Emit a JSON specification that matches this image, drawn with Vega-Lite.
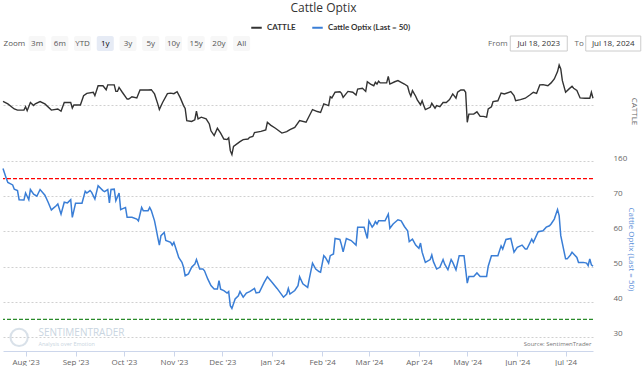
{
  "$schema": "https://vega.github.io/schema/vega-lite/v6.json",
  "padding": {"left": 0, "top": 2, "right": 0, "bottom": 0},
  "background": "white",
  "title": {"text": "Cattle Optix", "fontSize": 12, "fontWeight": "normal", "color": "#333333", "anchor": "middle", "font": "Open Sans", "offset": 6},
  "datasets": {
    "cattle": [
      {"date": "2023-07-18", "value": 181.3}, {"date": "2023-07-21", "value": 180.4}, {"date": "2023-07-25", "value": 178.6}, {"date": "2023-07-27", "value": 178.2}, {"date": "2023-07-31", "value": 178.2},
      {"date": "2023-08-01", "value": 179.4}, {"date": "2023-08-02", "value": 178.0}, {"date": "2023-08-04", "value": 180.9}, {"date": "2023-08-06", "value": 179.8}, {"date": "2023-08-07", "value": 180.4},
      {"date": "2023-08-10", "value": 181.2}, {"date": "2023-08-13", "value": 180.4}, {"date": "2023-08-17", "value": 178.2}, {"date": "2023-08-21", "value": 178.6}, {"date": "2023-08-23", "value": 177.8},
      {"date": "2023-08-25", "value": 180.9}, {"date": "2023-08-29", "value": 180.9}, {"date": "2023-08-30", "value": 178.9}, {"date": "2023-08-31", "value": 180.0}, {"date": "2023-09-04", "value": 180.0},
      {"date": "2023-09-06", "value": 183.3}, {"date": "2023-09-08", "value": 184.1}, {"date": "2023-09-12", "value": 184.5}, {"date": "2023-09-13", "value": 183.3}, {"date": "2023-09-15", "value": 186.8},
      {"date": "2023-09-18", "value": 186.8}, {"date": "2023-09-20", "value": 185.4}, {"date": "2023-09-21", "value": 187.1}, {"date": "2023-09-25", "value": 187.1}, {"date": "2023-09-26", "value": 184.8},
      {"date": "2023-09-27", "value": 184.8}, {"date": "2023-09-28", "value": 186.2}, {"date": "2023-09-30", "value": 184.5}, {"date": "2023-10-03", "value": 182.1}, {"date": "2023-10-04", "value": 182.1},
      {"date": "2023-10-06", "value": 182.9}, {"date": "2023-10-09", "value": 182.5}, {"date": "2023-10-11", "value": 185.3}, {"date": "2023-10-16", "value": 185.3}, {"date": "2023-10-18", "value": 185.4},
      {"date": "2023-10-20", "value": 183.9}, {"date": "2023-10-22", "value": 180.4}, {"date": "2023-10-23", "value": 178.4}, {"date": "2023-10-25", "value": 180.9}, {"date": "2023-10-28", "value": 184.0},
      {"date": "2023-10-30", "value": 184.2}, {"date": "2023-11-01", "value": 184.0}, {"date": "2023-11-03", "value": 184.7}, {"date": "2023-11-05", "value": 182.5}, {"date": "2023-11-07", "value": 179.8},
      {"date": "2023-11-08", "value": 178.8}, {"date": "2023-11-09", "value": 174.5}, {"date": "2023-11-12", "value": 174.2}, {"date": "2023-11-14", "value": 174.8}, {"date": "2023-11-15", "value": 177.8},
      {"date": "2023-11-16", "value": 175.1}, {"date": "2023-11-18", "value": 175.7}, {"date": "2023-11-21", "value": 175.1}, {"date": "2023-11-23", "value": 173.3}, {"date": "2023-11-24", "value": 170.9},
      {"date": "2023-11-26", "value": 169.2}, {"date": "2023-11-28", "value": 171.8}, {"date": "2023-11-30", "value": 170.1}, {"date": "2023-12-02", "value": 168.0}, {"date": "2023-12-04", "value": 167.8},
      {"date": "2023-12-05", "value": 168.4}, {"date": "2023-12-06", "value": 163.9}, {"date": "2023-12-07", "value": 162.5}, {"date": "2023-12-08", "value": 165.4}, {"date": "2023-12-12", "value": 167.1},
      {"date": "2023-12-14", "value": 167.8}, {"date": "2023-12-17", "value": 168.0}, {"date": "2023-12-18", "value": 168.6}, {"date": "2023-12-20", "value": 168.9}, {"date": "2023-12-21", "value": 170.3},
      {"date": "2023-12-25", "value": 170.7}, {"date": "2023-12-28", "value": 171.2}, {"date": "2023-12-29", "value": 173.9}, {"date": "2023-12-31", "value": 172.9}, {"date": "2024-01-03", "value": 171.8},
      {"date": "2024-01-07", "value": 170.1}, {"date": "2024-01-10", "value": 170.6}, {"date": "2024-01-12", "value": 171.3}, {"date": "2024-01-15", "value": 172.1}, {"date": "2024-01-18", "value": 174.5},
      {"date": "2024-01-22", "value": 173.9}, {"date": "2024-01-26", "value": 178.4}, {"date": "2024-01-29", "value": 177.7}, {"date": "2024-01-31", "value": 177.4}, {"date": "2024-02-02", "value": 180.4},
      {"date": "2024-02-05", "value": 179.8}, {"date": "2024-02-06", "value": 182.9}, {"date": "2024-02-07", "value": 182.5}, {"date": "2024-02-09", "value": 184.5}, {"date": "2024-02-12", "value": 184.7},
      {"date": "2024-02-13", "value": 184.1}, {"date": "2024-02-14", "value": 182.7}, {"date": "2024-02-17", "value": 184.8}, {"date": "2024-02-20", "value": 184.5}, {"date": "2024-02-22", "value": 183.5},
      {"date": "2024-02-23", "value": 185.6}, {"date": "2024-02-26", "value": 185.9}, {"date": "2024-02-28", "value": 184.8}, {"date": "2024-02-29", "value": 188.2}, {"date": "2024-03-02", "value": 187.4},
      {"date": "2024-03-04", "value": 186.8}, {"date": "2024-03-05", "value": 188.0}, {"date": "2024-03-06", "value": 187.4}, {"date": "2024-03-07", "value": 188.4}, {"date": "2024-03-08", "value": 187.8},
      {"date": "2024-03-12", "value": 187.8}, {"date": "2024-03-13", "value": 190.1}, {"date": "2024-03-14", "value": 187.4}, {"date": "2024-03-17", "value": 188.2}, {"date": "2024-03-19", "value": 188.6},
      {"date": "2024-03-21", "value": 188.0}, {"date": "2024-03-23", "value": 187.4}, {"date": "2024-03-25", "value": 186.6}, {"date": "2024-03-26", "value": 184.5}, {"date": "2024-03-27", "value": 183.1},
      {"date": "2024-03-28", "value": 185.1}, {"date": "2024-03-30", "value": 183.1}, {"date": "2024-03-31", "value": 181.8}, {"date": "2024-04-02", "value": 180.1}, {"date": "2024-04-03", "value": 181.5},
      {"date": "2024-04-04", "value": 179.8}, {"date": "2024-04-05", "value": 178.4}, {"date": "2024-04-08", "value": 179.2}, {"date": "2024-04-09", "value": 180.6}, {"date": "2024-04-11", "value": 178.9},
      {"date": "2024-04-12", "value": 179.8}, {"date": "2024-04-14", "value": 179.4}, {"date": "2024-04-16", "value": 180.9}, {"date": "2024-04-18", "value": 180.9}, {"date": "2024-04-20", "value": 181.9},
      {"date": "2024-04-22", "value": 183.9}, {"date": "2024-04-24", "value": 182.4}, {"date": "2024-04-25", "value": 184.5}, {"date": "2024-04-27", "value": 185.3}, {"date": "2024-04-29", "value": 185.3},
      {"date": "2024-04-30", "value": 184.5}, {"date": "2024-05-01", "value": 173.9}, {"date": "2024-05-02", "value": 176.8}, {"date": "2024-05-05", "value": 176.8}, {"date": "2024-05-07", "value": 177.6},
      {"date": "2024-05-09", "value": 176.0}, {"date": "2024-05-11", "value": 176.0}, {"date": "2024-05-13", "value": 175.7}, {"date": "2024-05-14", "value": 178.6}, {"date": "2024-05-16", "value": 179.4},
      {"date": "2024-05-17", "value": 181.2}, {"date": "2024-05-20", "value": 181.5}, {"date": "2024-05-22", "value": 184.2}, {"date": "2024-05-24", "value": 183.9}, {"date": "2024-05-28", "value": 184.7},
      {"date": "2024-05-30", "value": 183.3}, {"date": "2024-05-31", "value": 181.5}, {"date": "2024-06-03", "value": 181.9}, {"date": "2024-06-06", "value": 182.4}, {"date": "2024-06-09", "value": 183.6},
      {"date": "2024-06-11", "value": 184.5}, {"date": "2024-06-13", "value": 184.1}, {"date": "2024-06-15", "value": 187.1}, {"date": "2024-06-17", "value": 187.2}, {"date": "2024-06-20", "value": 186.8},
      {"date": "2024-06-22", "value": 187.8}, {"date": "2024-06-24", "value": 189.2}, {"date": "2024-06-26", "value": 191.8}, {"date": "2024-06-27", "value": 194.1}, {"date": "2024-06-28", "value": 192.7},
      {"date": "2024-06-29", "value": 188.6}, {"date": "2024-07-01", "value": 184.5}, {"date": "2024-07-03", "value": 185.6}, {"date": "2024-07-05", "value": 186.6}, {"date": "2024-07-06", "value": 185.9},
      {"date": "2024-07-08", "value": 185.1}, {"date": "2024-07-10", "value": 182.5}, {"date": "2024-07-13", "value": 182.4}, {"date": "2024-07-16", "value": 182.4}, {"date": "2024-07-17", "value": 184.5},
      {"date": "2024-07-18", "value": 182.4}
    ],
    "optix": [
      {"date": "2023-07-18", "value": 77.9}, {"date": "2023-07-20", "value": 75.1}, {"date": "2023-07-21", "value": 73.9}, {"date": "2023-07-24", "value": 73.2}, {"date": "2023-07-25", "value": 72.0},
      {"date": "2023-07-27", "value": 71.6}, {"date": "2023-07-28", "value": 69.0}, {"date": "2023-07-31", "value": 68.9}, {"date": "2023-08-01", "value": 70.9}, {"date": "2023-08-03", "value": 69.0},
      {"date": "2023-08-04", "value": 71.9}, {"date": "2023-08-06", "value": 70.6}, {"date": "2023-08-08", "value": 70.0}, {"date": "2023-08-10", "value": 71.9}, {"date": "2023-08-13", "value": 70.3},
      {"date": "2023-08-15", "value": 68.3}, {"date": "2023-08-17", "value": 66.1}, {"date": "2023-08-20", "value": 67.3}, {"date": "2023-08-21", "value": 67.8}, {"date": "2023-08-23", "value": 64.9},
      {"date": "2023-08-25", "value": 68.3}, {"date": "2023-08-27", "value": 68.1}, {"date": "2023-08-29", "value": 69.0}, {"date": "2023-08-30", "value": 64.0}, {"date": "2023-09-01", "value": 68.0},
      {"date": "2023-09-05", "value": 68.0}, {"date": "2023-09-07", "value": 71.4}, {"date": "2023-09-08", "value": 70.9}, {"date": "2023-09-10", "value": 71.6}, {"date": "2023-09-11", "value": 71.1},
      {"date": "2023-09-13", "value": 69.2}, {"date": "2023-09-15", "value": 73.0}, {"date": "2023-09-18", "value": 71.6}, {"date": "2023-09-19", "value": 71.3}, {"date": "2023-09-21", "value": 71.9},
      {"date": "2023-09-22", "value": 68.1}, {"date": "2023-09-23", "value": 71.9}, {"date": "2023-09-25", "value": 72.0}, {"date": "2023-09-26", "value": 68.7}, {"date": "2023-09-28", "value": 70.9},
      {"date": "2023-09-29", "value": 66.2}, {"date": "2023-10-01", "value": 66.6}, {"date": "2023-10-02", "value": 66.8}, {"date": "2023-10-03", "value": 64.0}, {"date": "2023-10-06", "value": 64.0},
      {"date": "2023-10-09", "value": 63.5}, {"date": "2023-10-10", "value": 63.0}, {"date": "2023-10-12", "value": 66.8}, {"date": "2023-10-13", "value": 65.9}, {"date": "2023-10-16", "value": 65.9},
      {"date": "2023-10-17", "value": 66.8}, {"date": "2023-10-18", "value": 65.9}, {"date": "2023-10-20", "value": 63.0}, {"date": "2023-10-21", "value": 60.7}, {"date": "2023-10-22", "value": 58.3},
      {"date": "2023-10-23", "value": 56.1}, {"date": "2023-10-24", "value": 58.8}, {"date": "2023-10-26", "value": 59.7}, {"date": "2023-10-27", "value": 57.4}, {"date": "2023-10-30", "value": 56.9},
      {"date": "2023-10-31", "value": 56.1}, {"date": "2023-11-01", "value": 56.9}, {"date": "2023-11-03", "value": 54.1}, {"date": "2023-11-04", "value": 52.6}, {"date": "2023-11-06", "value": 51.2},
      {"date": "2023-11-07", "value": 49.8}, {"date": "2023-11-08", "value": 47.4}, {"date": "2023-11-10", "value": 47.9}, {"date": "2023-11-12", "value": 49.8}, {"date": "2023-11-14", "value": 50.7},
      {"date": "2023-11-15", "value": 52.0}, {"date": "2023-11-17", "value": 49.3}, {"date": "2023-11-19", "value": 49.3}, {"date": "2023-11-20", "value": 48.8}, {"date": "2023-11-22", "value": 46.5},
      {"date": "2023-11-24", "value": 44.6}, {"date": "2023-11-26", "value": 43.6}, {"date": "2023-11-28", "value": 43.6}, {"date": "2023-11-29", "value": 46.0}, {"date": "2023-11-30", "value": 43.6},
      {"date": "2023-12-02", "value": 43.2}, {"date": "2023-12-04", "value": 42.5}, {"date": "2023-12-05", "value": 42.9}, {"date": "2023-12-06", "value": 38.9}, {"date": "2023-12-07", "value": 38.1},
      {"date": "2023-12-09", "value": 40.8}, {"date": "2023-12-11", "value": 41.7}, {"date": "2023-12-12", "value": 42.9}, {"date": "2023-12-14", "value": 41.3}, {"date": "2023-12-16", "value": 42.5},
      {"date": "2023-12-18", "value": 42.9}, {"date": "2023-12-19", "value": 43.2}, {"date": "2023-12-21", "value": 43.8}, {"date": "2023-12-22", "value": 42.5}, {"date": "2023-12-24", "value": 42.7},
      {"date": "2023-12-27", "value": 45.5}, {"date": "2023-12-29", "value": 47.1}, {"date": "2024-01-01", "value": 45.5}, {"date": "2024-01-04", "value": 43.8}, {"date": "2024-01-08", "value": 41.3},
      {"date": "2024-01-10", "value": 42.2}, {"date": "2024-01-11", "value": 43.8}, {"date": "2024-01-12", "value": 42.2}, {"date": "2024-01-15", "value": 43.2}, {"date": "2024-01-17", "value": 44.6},
      {"date": "2024-01-18", "value": 47.1}, {"date": "2024-01-20", "value": 45.1}, {"date": "2024-01-23", "value": 44.1}, {"date": "2024-01-24", "value": 46.5}, {"date": "2024-01-26", "value": 51.0},
      {"date": "2024-01-28", "value": 49.3}, {"date": "2024-01-30", "value": 48.6}, {"date": "2024-01-31", "value": 48.4}, {"date": "2024-02-02", "value": 53.1}, {"date": "2024-02-03", "value": 52.6},
      {"date": "2024-02-05", "value": 51.0}, {"date": "2024-02-06", "value": 53.1}, {"date": "2024-02-08", "value": 53.6}, {"date": "2024-02-09", "value": 58.0}, {"date": "2024-02-12", "value": 57.7},
      {"date": "2024-02-13", "value": 56.1}, {"date": "2024-02-14", "value": 54.2}, {"date": "2024-02-16", "value": 58.0}, {"date": "2024-02-19", "value": 57.4}, {"date": "2024-02-22", "value": 56.1},
      {"date": "2024-02-23", "value": 61.2}, {"date": "2024-02-27", "value": 61.2}, {"date": "2024-02-29", "value": 58.0}, {"date": "2024-03-01", "value": 63.0}, {"date": "2024-03-03", "value": 61.2},
      {"date": "2024-03-04", "value": 61.8}, {"date": "2024-03-05", "value": 62.8}, {"date": "2024-03-06", "value": 62.1}, {"date": "2024-03-07", "value": 63.0}, {"date": "2024-03-11", "value": 63.0},
      {"date": "2024-03-13", "value": 64.9}, {"date": "2024-03-14", "value": 60.9}, {"date": "2024-03-16", "value": 62.1}, {"date": "2024-03-19", "value": 63.3}, {"date": "2024-03-21", "value": 63.0},
      {"date": "2024-03-23", "value": 61.4}, {"date": "2024-03-25", "value": 60.2}, {"date": "2024-03-26", "value": 57.1}, {"date": "2024-03-28", "value": 57.8}, {"date": "2024-03-30", "value": 56.1},
      {"date": "2024-04-01", "value": 55.2}, {"date": "2024-04-02", "value": 56.7}, {"date": "2024-04-03", "value": 54.1}, {"date": "2024-04-05", "value": 51.2}, {"date": "2024-04-08", "value": 52.0},
      {"date": "2024-04-09", "value": 53.3}, {"date": "2024-04-10", "value": 51.4}, {"date": "2024-04-12", "value": 49.3}, {"date": "2024-04-14", "value": 49.8}, {"date": "2024-04-16", "value": 52.0},
      {"date": "2024-04-17", "value": 50.7}, {"date": "2024-04-19", "value": 49.1}, {"date": "2024-04-21", "value": 52.0}, {"date": "2024-04-22", "value": 51.2}, {"date": "2024-04-24", "value": 49.1},
      {"date": "2024-04-26", "value": 53.1}, {"date": "2024-04-29", "value": 53.1}, {"date": "2024-05-01", "value": 45.3}, {"date": "2024-05-02", "value": 47.2}, {"date": "2024-05-05", "value": 47.2},
      {"date": "2024-05-07", "value": 48.2}, {"date": "2024-05-09", "value": 47.2}, {"date": "2024-05-13", "value": 47.2}, {"date": "2024-05-14", "value": 50.1}, {"date": "2024-05-16", "value": 53.1},
      {"date": "2024-05-20", "value": 53.1}, {"date": "2024-05-22", "value": 55.9}, {"date": "2024-05-23", "value": 55.0}, {"date": "2024-05-25", "value": 57.7}, {"date": "2024-05-28", "value": 58.0},
      {"date": "2024-05-30", "value": 54.1}, {"date": "2024-06-01", "value": 55.5}, {"date": "2024-06-04", "value": 56.1}, {"date": "2024-06-06", "value": 55.0}, {"date": "2024-06-07", "value": 55.0},
      {"date": "2024-06-10", "value": 57.8}, {"date": "2024-06-11", "value": 56.9}, {"date": "2024-06-14", "value": 59.9}, {"date": "2024-06-17", "value": 60.2}, {"date": "2024-06-19", "value": 61.2},
      {"date": "2024-06-21", "value": 61.6}, {"date": "2024-06-22", "value": 62.1}, {"date": "2024-06-24", "value": 63.5}, {"date": "2024-06-25", "value": 64.9}, {"date": "2024-06-26", "value": 66.2},
      {"date": "2024-06-27", "value": 64.5}, {"date": "2024-06-28", "value": 58.8}, {"date": "2024-07-01", "value": 52.2}, {"date": "2024-07-02", "value": 52.2}, {"date": "2024-07-04", "value": 53.3},
      {"date": "2024-07-05", "value": 54.1}, {"date": "2024-07-06", "value": 53.6}, {"date": "2024-07-08", "value": 52.6}, {"date": "2024-07-09", "value": 51.2}, {"date": "2024-07-12", "value": 51.2},
      {"date": "2024-07-14", "value": 51.0}, {"date": "2024-07-15", "value": 50.3}, {"date": "2024-07-16", "value": 52.2}, {"date": "2024-07-17", "value": 50.5}, {"date": "2024-07-18", "value": 50.1}
    ]
  },
  "vconcat": [
    {
      "hconcat": [
        {
          "width": 250,
          "height": 15,
          "data": {"values": [{"range": "Zoom"}, {"range": "3m"}, {"range": "6m"}, {"range": "YTD"}, {"range": "1y"}, {"range": "3y"}, {"range": "5y"}, {"range": "10y"}, {"range": "15y"}, {"range": "20y"}, {"range": "All"}]},
          "encoding": {"x": {"field": "range", "type": "nominal", "sort": null, "scale": {"domain": ["Zoom", "3m", "6m", "YTD", "1y", "3y", "5y", "10y", "15y", "20y", "All"], "paddingInner": 0.25, "paddingOuter": 0.125}, "axis": null}},
          "layer": [
            {
              "transform": [{"filter": "datum.range !== 'Zoom'"}],
              "mark": {"type": "rect", "cornerRadius": 2},
              "encoding": {"fill": {"condition": {"test": "datum.range === '1y'", "value": "#e6ebf5"}, "value": "#f7f7f7"}}
            },
            {
              "mark": {"type": "text", "fontSize": 8, "font": "Open Sans", "baseline": "middle"},
              "encoding": {
                "text": {"field": "range"},
                "fill": {"condition": {"test": "datum.range === '1y'", "value": "#000000"}, "value": "#555555"},
                "fontWeight": {"condition": {"test": "datum.range === '1y'", "value": "bold"}, "value": "normal"}
              }
            }
          ]
        },
        {
          "width": 159,
          "height": 15,
          "data": {"values": [{"which": "From", "day": "Jul 18, 2023"}, {"which": "To", "day": "Jul 18, 2024"}]},
          "encoding": {"x": {"field": "which", "type": "nominal", "sort": null, "scale": {"domain": ["From", "To"], "paddingInner": 0, "paddingOuter": 0}, "axis": null}},
          "layer": [
            {
              "transform": [{"filter": "datum.which === 'From'"}],
              "mark": {"type": "text", "align": "left", "baseline": "middle", "fontSize": 8, "font": "Open Sans", "color": "#666666"},
              "encoding": {"x": {"field": "which", "type": "nominal", "sort": null, "bandPosition": 0}, "text": {"field": "which"}}
            },
            {
              "transform": [{"filter": "datum.which === 'To'"}],
              "mark": {"type": "text", "align": "left", "baseline": "middle", "fontSize": 8, "font": "Open Sans", "color": "#666666", "dx": 7},
              "encoding": {"x": {"field": "which", "type": "nominal", "sort": null, "bandPosition": 0}, "text": {"field": "which"}}
            },
            {
              "transform": [{"filter": "datum.which === 'From'"}],
              "mark": {"type": "rect", "width": 57, "xOffset": 11, "fill": "white", "stroke": "#cccccc", "strokeWidth": 1}
            },
            {
              "transform": [{"filter": "datum.which === 'To'"}],
              "mark": {"type": "rect", "width": 55, "xOffset": 6, "fill": "white", "stroke": "#cccccc", "strokeWidth": 1}
            },
            {
              "transform": [{"filter": "datum.which === 'From'"}],
              "mark": {"type": "text", "baseline": "middle", "fontSize": 8, "font": "Open Sans", "color": "#333333", "dx": 11},
              "encoding": {"text": {"field": "day"}}
            },
            {
              "transform": [{"filter": "datum.which === 'To'"}],
              "mark": {"type": "text", "baseline": "middle", "fontSize": 8, "font": "Open Sans", "color": "#333333", "dx": 6},
              "encoding": {"text": {"field": "day"}}
            }
          ]
        }
      ],
      "spacing": 235
    },
    {
      "width": 590,
      "height": 289,
      "layer": [
        {
          "data": {"name": "cattle"},
          "mark": {"type": "line", "strokeWidth": 1.4},
          "encoding": {
            "x": {"field": "date", "type": "temporal", "scale": {"type": "utc", "domain": ["2023-07-18", "2024-07-18"]},
                  "axis": {"title": null, "format": "%b '%y", "tickCount": {"interval": "month", "step": 1}, "labelFontSize": 8, "labelColor": "#666666", "labelFont": "Open Sans", "domainColor": "#ccd6eb", "tickColor": "#ccd6eb", "tickSize": 5, "labelPadding": 2, "grid": false, "labelFlush": false}},
            "y": {"field": "value", "type": "quantitative", "scale": {"domain": [93.23, 195.17], "nice": false, "zero": false},
                  "axis": {"orient": "left", "title": "CATTLE", "labels": false, "ticks": false, "domain": false, "grid": true, "values": [180], "gridColor": "#d0d0d0", "gridDash": [2, 2], "gridWidth": 1,
                           "titleX": 630, "titleY": 49, "titleAngle": 90, "titleAlign": "center", "titleBaseline": "middle", "titleColor": "#666666", "titleFontSize": 8, "titleFontWeight": "normal", "titleFont": "Open Sans"}},
            "color": {"datum": "CATTLE", "type": "nominal",
                      "scale": {"domain": ["CATTLE", "Cattle Optix (Last = 50)"], "range": ["#333333", "#3a7ed6"]},
                      "legend": {"orient": "none", "legendX": 247, "legendY": -15, "direction": "horizontal", "title": null, "symbolType": "stroke", "symbolStrokeWidth": 2, "symbolSize": 110,
                                 "labelFontSize": 8, "labelFontWeight": "bold", "labelColor": "#333333", "labelFont": "Lato", "columnPadding": 12, "labelOffset": 4}}
          }
        },
        {
          "layer": [
            {
              "data": {"name": "optix"},
              "mark": {"type": "line", "strokeWidth": 1.5},
              "encoding": {
                "x": {"field": "date", "type": "temporal", "scale": {"type": "utc", "domain": ["2023-07-18", "2024-07-18"]},
                      "axis": {"title": null, "format": "%b '%y", "tickCount": {"interval": "month", "step": 1}, "labelFontSize": 8, "labelColor": "#666666", "labelFont": "Open Sans", "domainColor": "#ccd6eb", "tickColor": "#ccd6eb", "tickSize": 5, "labelPadding": 2, "grid": false, "labelFlush": false}},
                "y": {"field": "value", "type": "quantitative", "scale": {"domain": [26.02, 108.13], "nice": false, "zero": false},
                      "axis": {"orient": "right", "title": "Cattle Optix (Last = 50)", "values": [30, 40, 50, 60, 70, 80], "labelExpr": "datum.value == 80 ? '160' : datum.label",
                               "ticks": false, "domain": false, "grid": true, "gridColor": "#d0d0d0", "gridDash": [2, 2], "gridWidth": 1, "labelPadding": 20, "labelOffset": -3,
                               "labelFontSize": 8, "labelColor": "#666666", "labelFont": "Open Sans",
                               "titleX": 37, "titleY": 187, "titleAngle": 90, "titleAlign": "center", "titleBaseline": "middle", "titleColor": "#5b8fd9", "titleFontSize": 8, "titleFontWeight": "normal", "titleFont": "Open Sans"}},
                "color": {"datum": "Cattle Optix (Last = 50)", "type": "nominal"}
              }
            },
            {
              "data": {"values": [{"value": 75}]},
              "mark": {"type": "rule", "color": "#ff0000", "strokeDash": [4, 2], "strokeWidth": 1.3},
              "encoding": {"y": {"field": "value", "type": "quantitative"}}
            },
            {
              "data": {"values": [{"value": 35}]},
              "mark": {"type": "rule", "color": "#2a8a2a", "strokeDash": [4, 2], "strokeWidth": 1.3},
              "encoding": {"y": {"field": "value", "type": "quantitative"}}
            },
            {
              "data": {"values": [{"date": "2023-08-09", "value": 31.0, "label": "SENTIMENTRADER"}]},
              "mark": {"type": "text", "align": "left", "baseline": "middle", "fontSize": 10, "font": "Open Sans", "color": "#c9d5e1"},
              "encoding": {"x": {"field": "date", "type": "temporal"}, "y": {"field": "value", "type": "quantitative"}, "text": {"field": "label"}}
            },
            {
              "data": {"values": [{"date": "2023-08-09", "value": 28.0, "label": "Analysis over Emotion"}]},
              "mark": {"type": "text", "align": "left", "baseline": "middle", "fontSize": 5.5, "font": "Open Sans", "color": "#c9d5e1", "letterSpacing": 1.6},
              "encoding": {"x": {"field": "date", "type": "temporal"}, "y": {"field": "value", "type": "quantitative"}, "text": {"field": "label"}}
            },
            {
              "data": {"values": [{"date": "2023-07-28", "value": 29.9}]},
              "mark": {"type": "point", "shape": "circle", "filled": false, "size": 300, "stroke": "#c9d5e1", "strokeWidth": 2},
              "encoding": {"x": {"field": "date", "type": "temporal"}, "y": {"field": "value", "type": "quantitative"}}
            },
            {
              "data": {"values": [{"date": "2024-07-17", "value": 28.0, "label": "Source: SentimenTrader"}]},
              "mark": {"type": "text", "align": "right", "baseline": "middle", "fontSize": 6, "font": "Open Sans", "color": "#777777"},
              "encoding": {"x": {"field": "date", "type": "temporal"}, "y": {"field": "value", "type": "quantitative"}, "text": {"field": "label"}}
            }
          ]
        }
      ],
      "resolve": {"scale": {"y": "independent"}}
    }
  ],
  "spacing": 10,
  "config": {"view": {"stroke": null}, "font": "Open Sans"}
}
